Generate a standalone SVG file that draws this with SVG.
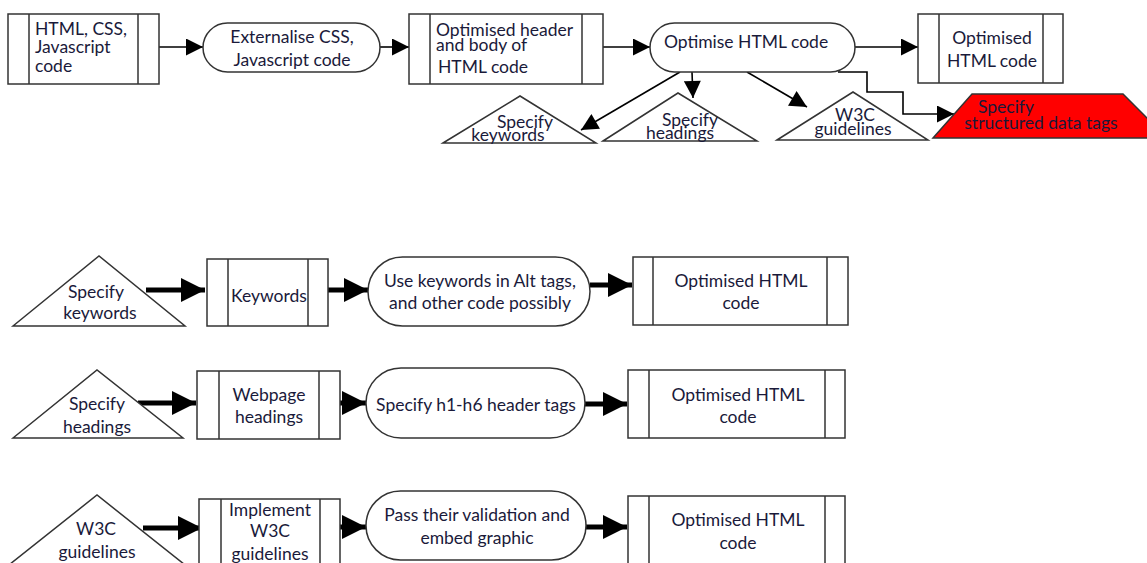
<svg xmlns="http://www.w3.org/2000/svg" width="1147" height="563" viewBox="0 0 1147 563">
<style>
.s{fill:#fff;stroke:#333;stroke-width:1.5}
.t{font-family:Lato,"Open Sans",sans-serif;font-size:17.5px;fill:#1a1a3a}
.m{text-anchor:middle}
.c{fill:none;stroke:#000;stroke-width:1.6}
.k{fill:none;stroke:#000;stroke-width:5}
</style>
<defs>
<marker id="a" viewBox="0 0 10 10" refX="10" refY="5" markerWidth="23" markerHeight="17" markerUnits="userSpaceOnUse" orient="auto"><path d="M0,0L10,5L0,10z" fill="#000"/></marker>
<marker id="b" viewBox="0 0 10 10" refX="10" refY="5" markerWidth="24" markerHeight="24" markerUnits="userSpaceOnUse" orient="auto"><path d="M0,0L10,5L0,10z" fill="#000"/></marker>
</defs>
<g id="connectors">
<path class="c" d="M159,47H203" marker-end="url(#a)"/>
<path class="c" d="M380,47H409" marker-end="url(#a)"/>
<path class="c" d="M603,47H650" marker-end="url(#a)"/>
<path class="c" d="M855,47H918" marker-end="url(#a)"/>
<path class="c" d="M680,72L581,130" marker-end="url(#a)"/>
<path class="c" d="M692,72L693,98" marker-end="url(#a)"/>
<path class="c" d="M747,72L807,107" marker-end="url(#a)"/>
<path class="c" d="M838,72H867V92H903V114H954" marker-end="url(#a)"/>
<path class="k" d="M146,290H205" marker-end="url(#b)"/>
<path class="k" d="M328,290H368" marker-end="url(#b)"/>
<path class="k" d="M590,285H632" marker-end="url(#b)"/>
<path class="k" d="M138,403H196" marker-end="url(#b)"/>
<path class="k" d="M340,403H366" marker-end="url(#b)"/>
<path class="k" d="M585,404H627" marker-end="url(#b)"/>
<path class="k" d="M143,528H202" marker-end="url(#b)"/>
<path class="k" d="M340,527H366" marker-end="url(#b)"/>
<path class="k" d="M586,527H627" marker-end="url(#b)"/>
</g>
<g id="n1"><rect class="s" x="8" y="14" width="151" height="70"/><path class="s" d="M29,14V84M138,14V84"/><text class="t" x="35" y="35">HTML, CSS,</text><text class="t" x="35" y="53">Javascript</text><text class="t" x="35" y="72">code</text></g>
<g id="n2"><rect class="s" x="203" y="23" width="177" height="49" rx="24.5"/><text class="t m" x="292" y="43">Externalise CSS,</text><text class="t m" x="292" y="66">Javascript code</text></g>
<g id="n3"><rect class="s" x="409" y="14" width="194" height="70"/><path class="s" d="M430,14V84M582,14V84"/><text class="t" x="436" y="36">Optimised header</text><text class="t" x="436" y="51">and body of</text><text class="t" x="438" y="73">HTML code</text></g>
<g id="n4"><rect class="s" x="650" y="23" width="205" height="49" rx="24.5"/><text class="t m" x="746" y="48">Optimise HTML code</text></g>
<g id="n5"><rect class="s" x="918" y="14" width="145" height="69"/><path class="s" d="M939,14V83M1043,14V83"/><text class="t m" x="992" y="44">Optimised</text><text class="t m" x="992" y="67">HTML code</text></g>
<g id="n6"><path class="s" d="M443,143L520,96L596,143Z"/><text class="t m" x="525" y="128">Specify</text><text class="t m" x="508" y="141">keywords</text></g>
<g id="n7"><path class="s" d="M603,141L678,93L757,141Z"/><text class="t m" x="690" y="126">Specify</text><text class="t m" x="680" y="139">headings</text></g>
<g id="n8"><path class="s" d="M777,140L853,92L928,140Z"/><text class="t m" x="855" y="121">W3C</text><text class="t m" x="853" y="135">guidelines</text></g>
<g id="n9"><path d="M933,138L972,94H1123L1149,120V138Z" fill="#f00" stroke="#333" stroke-width="1.5"/><text class="t m" x="1006" y="113">Specify</text><text class="t m" x="1041" y="129">structured data tags</text></g>
<g id="r1a"><path class="s" d="M13,326L99,256L185,326Z"/><text class="t m" x="96" y="298">Specify</text><text class="t m" x="100" y="319">keywords</text></g>
<g id="r1b"><rect class="s" x="207" y="259" width="121" height="67"/><path class="s" d="M228,259V326M308,259V326"/><text class="t m" x="269" y="302">Keywords</text></g>
<g id="r1c"><rect class="s" x="368" y="257" width="222" height="69" rx="34.5"/><text class="t m" x="480" y="287">Use keywords in Alt tags,</text><text class="t m" x="480" y="309">and other code possibly</text></g>
<g id="r1d"><rect class="s" x="633" y="257" width="215" height="68"/><path class="s" d="M653,257V325M827,257V325"/><text class="t m" x="741" y="287">Optimised HTML</text><text class="t m" x="741" y="309">code</text></g>
<g id="r2a"><path class="s" d="M13,438L97,370L183,438Z"/><text class="t m" x="97" y="410">Specify</text><text class="t m" x="97" y="433">headings</text></g>
<g id="r2b"><rect class="s" x="197" y="371" width="143" height="68"/><path class="s" d="M219,371V439M319,371V439"/><text class="t m" x="269" y="401">Webpage</text><text class="t m" x="269" y="423">headings</text></g>
<g id="r2c"><rect class="s" x="366" y="368" width="219" height="70" rx="35"/><text class="t m" x="476" y="411">Specify h1-h6 header tags</text></g>
<g id="r2d"><rect class="s" x="628" y="370" width="217" height="68"/><path class="s" d="M649,370V438M825,370V438"/><text class="t m" x="738" y="401">Optimised HTML</text><text class="t m" x="738" y="423">code</text></g>
<g id="r3a"><path class="s" d="M-10,580L97,495L204,580"/><text class="t m" x="96" y="535">W3C</text><text class="t m" x="97" y="558">guidelines</text></g>
<g id="r3b"><rect class="s" x="199" y="499" width="141" height="80"/><path class="s" d="M221,499V579M320,499V579"/><text class="t m" x="270" y="516">Implement</text><text class="t m" x="270" y="537">W3C</text><text class="t m" x="270" y="560">guidelines</text></g>
<g id="r3c"><rect class="s" x="366" y="491" width="220" height="69" rx="34.5"/><text class="t m" x="477" y="521">Pass their validation and</text><text class="t m" x="477" y="544">embed graphic</text></g>
<g id="r3d"><rect class="s" x="628" y="496" width="217" height="80"/><path class="s" d="M649,496V576M825,496V576"/><text class="t m" x="738" y="526">Optimised HTML</text><text class="t m" x="738" y="549">code</text></g>
</svg>
